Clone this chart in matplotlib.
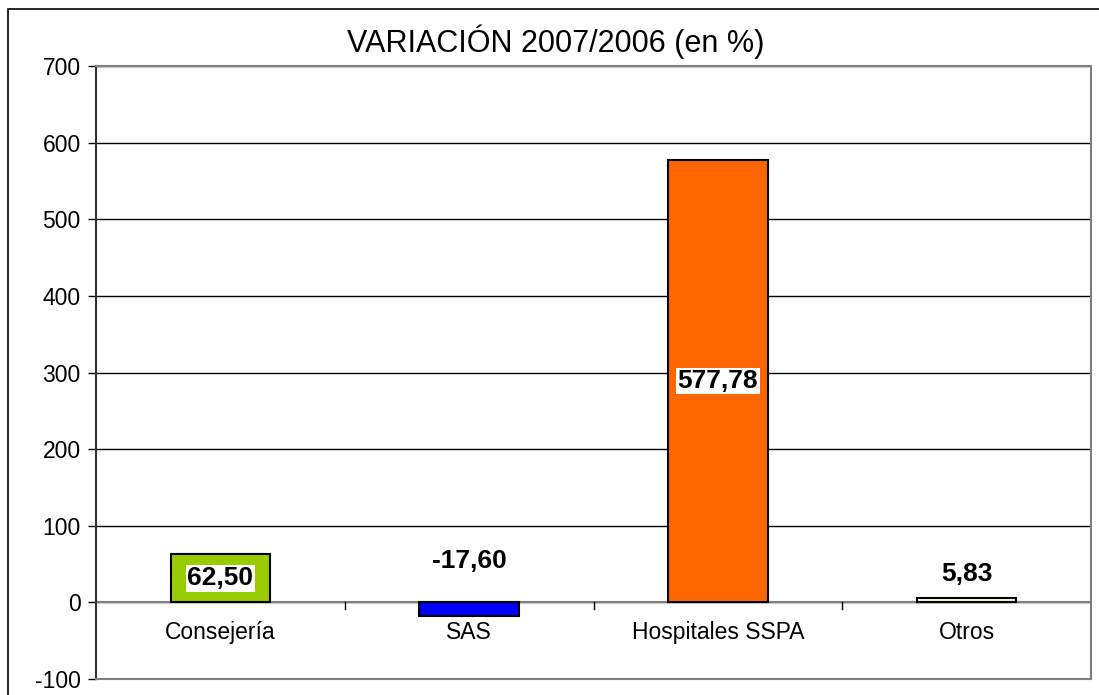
import matplotlib.pyplot as plt
from matplotlib.patches import Rectangle

categories = ['Consejería', 'SAS', 'Hospitales SSPA', 'Otros']
values = [62.50, -17.60, 577.78, 5.83]
labels = ['62,50', '-17,60', '577,78', '5,83']
colors = ['#99CC00', '#0000FF', '#FF6600', '#FFFFCC']

plt.rcParams['font.family'] = ['Liberation Sans', 'DejaVu Sans']
plt.rcParams['axes.unicode_minus'] = False

fig = plt.figure(figsize=(10.99, 6.95), dpi=100)

# outer chart border (only top/left visible in the original)
fig.patches.append(Rectangle((8 / 1099, -0.1), 1.2, 1 - 9 / 695 + 0.1,
                             transform=fig.transFigure, fill=False,
                             edgecolor='black', linewidth=1.2))

ax = fig.add_axes([96 / 1099, 1 - 679 / 695, 995 / 1099, 613 / 695])
x = range(len(categories))
ax.bar(x, values, width=0.4, color=colors, edgecolor='black', linewidth=1.5, zorder=3)

ax.set_xlim(-0.5, 3.5)
ax.set_ylim(-100, 700)
ax.set_yticks(range(-100, 701, 100))
ax.yaxis.grid(True, color='black', linewidth=1, zorder=0)

# x axis crossing at zero with ticks between categories
ax.axhline(0, color='#808080', linewidth=1.5, zorder=2)
for b in [0.5, 1.5, 2.5]:
    ax.plot([b, b], [0, -8.5], color='black', linewidth=1, zorder=2, clip_on=False)
ax.set_xticks([])
for i, cat in enumerate(categories):
    ax.annotate(cat, (i, 0), xytext=(0, -22), textcoords='offset points',
                ha='center', va='center', fontsize=16.5)
ax.tick_params(axis='y', length=6, width=1, labelsize=16.5, pad=5)

for side in ['top', 'right', 'bottom']:
    ax.spines[side].set_color('#808080')
    ax.spines[side].set_linewidth(1.5)
ax.spines['left'].set_color('#333333')
ax.spines['left'].set_linewidth(1.5)

# data labels
for i, (v, lab) in enumerate(zip(values, labels)):
    if v > 50:
        ax.text(i, v / 2, lab, ha='center', va='center', fontsize=19, fontweight='bold',
                bbox=dict(facecolor='white', edgecolor='none', pad=1), zorder=4)
    else:
        off = 30 if v < 0 else 17
        ax.annotate(lab, (i, max(v, 0)), xytext=(0, off), textcoords='offset points',
                    ha='center', va='center', fontsize=19, fontweight='bold', zorder=4)

fig.text(556 / 1099, 1 - 42 / 695, 'VARIACIÓN 2007/2006 (en %)', ha='center', va='center', fontsize=22)

fig.savefig('out.png', dpi=100)
